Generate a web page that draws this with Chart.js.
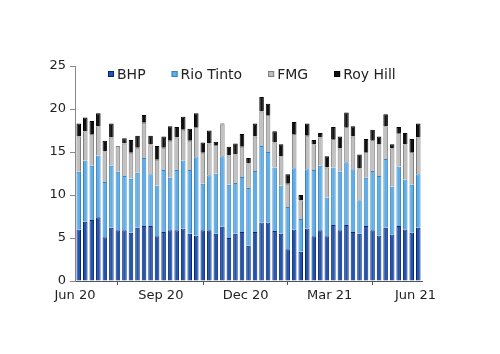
<!DOCTYPE html>
<html>
<head>
<meta charset="utf-8">
<script src="https://cdn.jsdelivr.net/npm/chart.js@4.4.1/dist/chart.umd.min.js"></script>
<style>
  html, body { margin: 0; padding: 0; background: #fff; }
  #wrap { width: 500px; height: 354px; position: relative; }
</style>
</head>
<body>
<div id="wrap"><canvas id="grafico"></canvas></div>
<script>
// semanas (sextas-feiras)
var _semanas = [
    "2020-06-05", "2020-06-12", "2020-06-19", "2020-06-26",
    "2020-07-03", "2020-07-10", "2020-07-17", "2020-07-24", "2020-07-31",
    "2020-08-07", "2020-08-14", "2020-08-21", "2020-08-28",
    "2020-09-04", "2020-09-11", "2020-09-18", "2020-09-25",
    "2020-10-02", "2020-10-09", "2020-10-16", "2020-10-23", "2020-10-30",
    "2020-11-06", "2020-11-13", "2020-11-20", "2020-11-27",
    "2020-12-04", "2020-12-11", "2020-12-18", "2020-12-25",
    "2021-01-01", "2021-01-08", "2021-01-15", "2021-01-22", "2021-01-29",
    "2021-02-05", "2021-02-12", "2021-02-19", "2021-02-26",
    "2021-03-05", "2021-03-12", "2021-03-19", "2021-03-26",
    "2021-04-02", "2021-04-09", "2021-04-16", "2021-04-23", "2021-04-30",
    "2021-05-07", "2021-05-14", "2021-05-21", "2021-05-28",
    "2021-06-04"
];

var _bhp = [
    6.0, 6.9, 7.1, 7.4, 5.1, 6.2, 5.9, 5.9, 5.6, 6.2, 6.4, 6.4, 5.2, 5.7,
    5.9, 5.9, 6.1, 5.5, 5.3, 5.9, 5.9, 5.5, 6.3, 5.0, 5.5, 5.7, 4.1, 5.7,
    6.8, 6.8, 5.8, 5.5, 3.7, 6.0, 3.4, 6.1, 5.2, 5.9, 5.2, 6.5, 5.9, 6.5,
    5.7, 5.5, 6.4, 5.9, 5.3, 6.2, 5.4, 6.4, 6.0, 5.6, 6.2
];
var _rioTinto = [
    6.7, 7.1, 6.3, 7.2, 6.4, 7.2, 6.8, 6.3, 6.3, 6.4, 7.9, 6.0, 5.9, 7.2,
    6.1, 7.0, 7.9, 7.4, 9.1, 5.4, 6.4, 7.0, 8.2, 6.2, 5.9, 6.4, 6.7, 7.1,
    8.9, 8.2, 7.4, 5.6, 4.9, 7.1, 3.8, 6.9, 7.7, 7.5, 4.5, 6.7, 6.8, 7.3,
    7.3, 3.9, 5.6, 6.9, 6.9, 8.0, 5.6, 6.9, 5.8, 5.6, 6.2
];
var _fmg = [
    4.1, 3.4, 3.7, 3.4, 3.6, 3.3, 3.0, 3.8, 3.0, 2.9, 4.1, 3.5, 3.0, 2.6,
    4.3, 3.8, 3.6, 3.4, 3.5, 3.6, 3.7, 3.3, 3.7, 3.4, 3.3, 3.5, 2.9, 4.0,
    4.0, 4.3, 2.9, 3.4, 2.7, 4.0, 2.2, 3.9, 3.0, 3.3, 3.5, 3.3, 2.7, 4.1,
    3.8, 3.7, 3.0, 3.6, 3.7, 3.8, 4.4, 3.9, 4.1, 3.8, 4.3
];
var _royHill = [
    1.5, 1.6, 1.5, 1.5, 1.2, 1.6, 0.0, 0.6, 1.5, 1.4, 0.9, 1.0, 1.6, 1.3,
    1.7, 1.2, 1.5, 1.4, 1.6, 1.2, 1.5, 0.4, 0.1, 1.0, 1.3, 1.5, 0.6, 1.5,
    1.7, 1.3, 1.3, 1.4, 1.1, 1.4, 0.6, 1.4, 0.5, 0.5, 1.3, 1.4, 1.4, 1.7,
    1.2, 1.6, 1.5, 1.2, 0.9, 1.4, 0.5, 0.7, 1.3, 1.5, 1.6
];

// marcas do eixo x (inicio de cada trimestre)
var _ticksDatas = ["2020-06-01", "2020-09-01", "2020-12-01", "2021-03-01", "2021-06-01"];
var _ticksLabels = ["Jun 20", "Sep 20", "Dec 20", "Mar 21", "Jun 21"];

var _inicio = Date.UTC(2020, 5, 1);

function dias(str) {
    var p = str.split("-");
    return (Date.UTC(+p[0], +p[1] - 1, +p[2]) - _inicio) / 86400000;
}

function montaSerie(valores) {
    return valores.map(function (v, i) {
        return { x: dias(_semanas[i]), y: v };
    });
}

var _fonte = { family: "DejaVu Sans", size: 13 };

// legenda desenhada dentro da area do grafico, na horizontal
var legendaInterna = {
    id: "legendaInterna",
    afterDraw: function (chart) {
        var ctx = chart.ctx;
        var area = chart.chartArea;
        var sets = chart.data.datasets;
        ctx.save();
        ctx.font = "14px 'DejaVu Sans'";
        ctx.textBaseline = "middle";
        var box = 6, gapTexto = 3, gapItem = 26;
        var total = 0;
        sets.forEach(function (ds, i) {
            total += box + gapTexto + ctx.measureText(ds.label).width;
            if (i < sets.length - 1) total += gapItem;
        });
        var x = Math.round((area.left + area.right) / 2 + 3 - total / 2);
        var y = area.top + 8;
        sets.forEach(function (ds) {
            ctx.fillStyle = ds.backgroundColor;
            ctx.fillRect(x, y - box / 2, box, box);
            ctx.strokeStyle = ds.borderColor;
            ctx.lineWidth = 1;
            ctx.strokeRect(x + 0.5, y - box / 2 + 0.5, box - 1, box - 1);
            x += box + gapTexto;
            ctx.fillStyle = "#222";
            ctx.fillText(ds.label, x, y + 1);
            x += ctx.measureText(ds.label).width + gapItem;
        });
        ctx.restore();
    }
};

new Chart(document.getElementById("grafico"), {
    type: "bar",
    data: {
        datasets: [
            { label: "BHP", data: montaSerie(_bhp), backgroundColor: "#1f55ab", borderColor: "#0b237a", borderWidth: 1 },
            { label: "Rio Tinto", data: montaSerie(_rioTinto), backgroundColor: "#5dade6", borderColor: "#3a83c4", borderWidth: 1 },
            { label: "FMG", data: montaSerie(_fmg), backgroundColor: "#bfbfbf", borderColor: "#7f7f7f", borderWidth: 1 },
            { label: "Roy Hill", data: montaSerie(_royHill), backgroundColor: "#111111", borderColor: "#000000", borderWidth: 1 }
        ]
    },
    plugins: [legendaInterna],
    options: {
        responsive: true,
        maintainAspectRatio: false,
        animation: false,
        datasets: {
            bar: { barPercentage: 0.7, categoryPercentage: 1 }
        },
        layout: { padding: { left: 25, right: 78, top: 66, bottom: 0 } },
        plugins: {
            tooltip: { enabled: false },
            legend: { display: false }
        },
        scales: {
            x: {
                type: "linear",
                stacked: true,
                min: 0,
                max: 372,
                offset: false,
                afterBuildTicks: function (scale) {
                    scale.ticks = _ticksDatas.map(function (d) { return { value: dias(d) }; });
                },
                afterFit: function (scale) { scale.height = 73; },
                ticks: {
                    autoSkip: false,
                    maxRotation: 0,
                    font: _fonte,
                    color: "#222",
                    padding: 3,
                    callback: function (v) {
                        var i = _ticksDatas.map(dias).indexOf(v);
                        return i >= 0 ? _ticksLabels[i] : "";
                    }
                },
                grid: { display: true, drawOnChartArea: false, drawTicks: true, tickLength: 4, color: "#555" },
                border: { display: true, color: "#555" }
            },
            y: {
                stacked: true,
                min: 0,
                max: 25,
                afterFit: function (scale) { scale.width = 50; },
                ticks: { stepSize: 5, font: _fonte, color: "#222", padding: 4 },
                grid: { display: true, drawOnChartArea: false, drawTicks: true, tickLength: 5, color: "#888" },
                border: { display: true, color: "#888" }
            }
        }
    }
});
</script>
</body>
</html>
